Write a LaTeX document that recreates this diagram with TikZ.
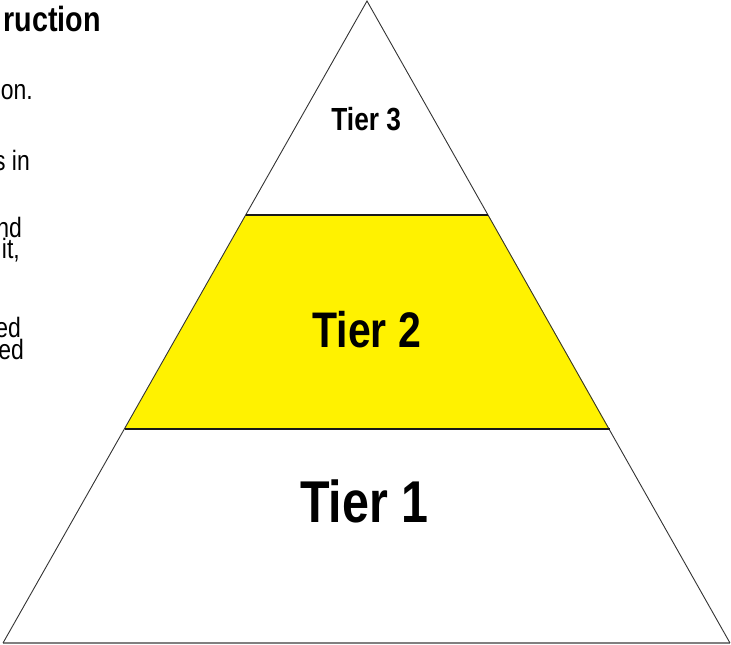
\documentclass[tikz,border=0pt]{standalone}
\usepackage{fontspec}
\setmainfont{Liberation Sans}
\newfontfamily\narrowfont[FakeStretch=0.82]{Liberation Sans}
\tikzstyle{tier} = [draw=none, inner sep=0pt, anchor=base, text=black]
\tikzstyle{notes} = [draw=none, inner sep=0pt, anchor=base east,
    font=\narrowfont\fontsize{28}{30}\selectfont]
\tikzstyle{edge} = [draw=black!80, line width=0.9pt]
\tikzstyle{band} = [draw=black!90, line width=1.6pt]

\begin{document}
\begin{tikzpicture}[x=1pt, y=-1pt]
            \useasboundingbox (0,0) rectangle (731,645);
            % Pyramid
            \coordinate (apex) at (367,1);
            \coordinate (bl) at (3,643);
            \coordinate (br) at (730,643);
            \coordinate (t2l) at (245.7,215);
            \coordinate (t2r) at (488.3,215);
            \coordinate (b2l) at (124.5,429);
            \coordinate (b2r) at (609.5,429);
            \fill[yellow] (t2l) -- (t2r) -- (b2r) -- (b2l) -- cycle;
            \draw[draw=black!50, line width=2pt] (bl) -- (br);
            \draw[edge] (bl) -- (apex) -- (br);
            \draw[band] (t2l) -- (t2r);
            \draw[band] (b2l) -- (b2r);
            % Tiers
            \node[tier, font=\narrowfont\bfseries\fontsize{32}{34}\selectfont]
            (tier3) at (366.2,130) {Tier 3};
            \node[tier, font=\narrowfont\bfseries\fontsize{50}{56}\selectfont]
            (tier2) at (366.7,347.5) {Tier 2};
            \node[tier, font=\narrowfont\bfseries\fontsize{59}{66}\selectfont]
            (tier1) at (364.2,522.7) {Tier 1};
            % Notes
            \node[notes, font=\narrowfont\bfseries\fontsize{35}{38}\selectfont]
            (head) at (101,31) {ruction};
            \node[notes] (line1) at (33,99) {on.};
            \node[notes] (line2) at (30,170) {s in};
            \node[notes] (line3) at (22,237) {nd};
            \node[notes] (line4) at (20,258) {it,};
            \node[notes] (line5) at (21,337) {ed};
            \node[notes] (line6) at (24,359) {ed};

        \end{tikzpicture}
\end{document}
